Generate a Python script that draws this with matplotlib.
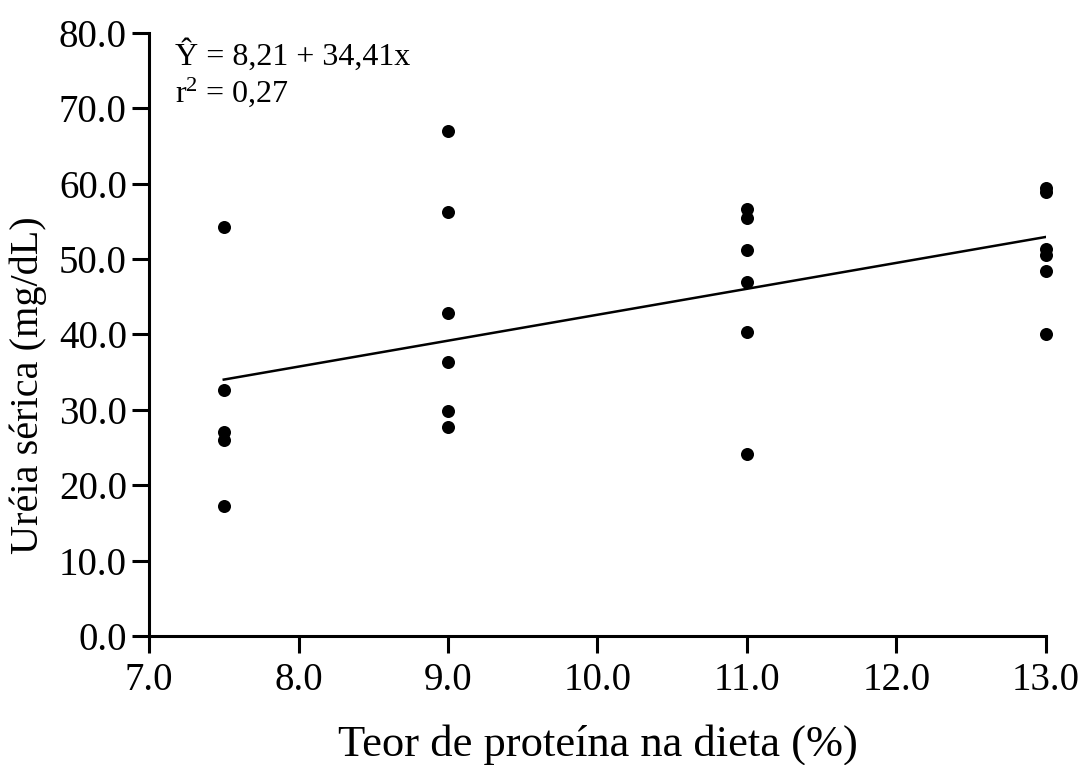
import matplotlib
matplotlib.use("Agg")
from matplotlib import pyplot as plt
import numpy as np

plt.rcParams['font.family'] = ['Liberation Serif', 'DejaVu Serif']
plt.rcParams['mathtext.fontset'] = 'custom'
plt.rcParams['mathtext.rm'] = 'Liberation Serif'
plt.rcParams['mathtext.it'] = 'Liberation Serif:italic'

# protein level (%) and serum urea (mg/dL)
protein = [7.5, 7.5, 7.5, 7.5, 7.5,
           9.0, 9.0, 9.0, 9.0, 9.0, 9.0,
           11.0, 11.0, 11.0, 11.0, 11.0, 11.0,
           13.0, 13.0, 13.0, 13.0, 13.0, 13.0]
urea = [54.3, 32.7, 27.0, 26.0, 17.2,
        67.0, 56.3, 42.9, 36.3, 29.8, 27.7,
        56.6, 55.5, 51.2, 47.0, 40.3, 24.1,
        59.4, 58.9, 51.3, 50.6, 48.4, 40.0]

# fitted line Y = a + b*x over the tested range
a, b = 8.21, 3.441
fit_x = np.array([7.5, 13.0])

xticks = [7.0, 8.0, 9.0, 10.0, 11.0, 12.0, 13.0]
yticks = [0, 10, 20, 30, 40, 50, 60, 70, 80]

fig = plt.figure(figsize=(10.83, 7.65), dpi=100)
ax = fig.add_axes([0.1376, 0.1686, 0.8282, 0.7883])

ax.scatter(protein, urea, s=88, color='black', zorder=3, linewidths=0,
           clip_on=False)
ax.plot(fit_x, a + b * fit_x, color='black', lw=1.8)

ax.set_xlim(7.0, 13.0)
ax.set_ylim(0, 80)
ax.set_xticks(xticks)
ax.set_xticklabels(['%.1f' % v for v in xticks])
ax.set_yticks(yticks)
ax.set_yticklabels(['%.1f' % v for v in yticks])

for s in ['top', 'right']:
    ax.spines[s].set_visible(False)
for s in ['left', 'bottom']:
    ax.spines[s].set_linewidth(2.2)
ax.tick_params(direction='out', length=12, width=2.2, labelsize=28)
ax.tick_params(axis='y', pad=4)
ax.tick_params(axis='x', pad=7)

ax.set_xlabel('Teor de proteína na dieta (%)', fontsize=32, labelpad=18)
ax.set_ylabel('Uréia sérica (mg/dL)', fontsize=29)
ax.yaxis.set_label_coords(-0.114, 0.416)

ax.text(0.029, 0.947, 'Ŷ = 8,21 + 34,41x', transform=ax.transAxes,
        fontsize=23, va='baseline', ha='left')
ax.text(0.029, 0.886, 'r$^2$ = 0,27', transform=ax.transAxes,
        fontsize=23, va='baseline', ha='left')

fig.savefig('out.png', dpi=100)
